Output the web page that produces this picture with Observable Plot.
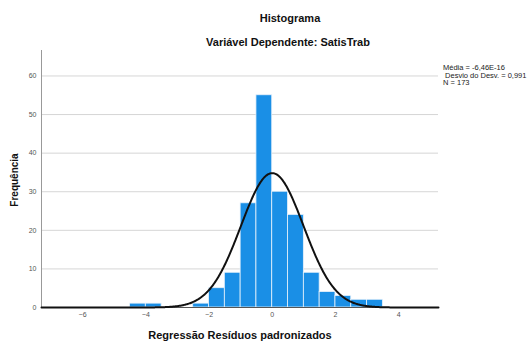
<!DOCTYPE html>
<html>
<head>
<meta charset="utf-8">
<script src="https://cdn.jsdelivr.net/npm/d3@7"></script>
<script src="https://cdn.jsdelivr.net/npm/@observablehq/plot@0.6"></script>
<style>
  body { margin: 0; background: #fff; font-family: "Liberation Sans", Arial, sans-serif; }
  #wrap { position: relative; width: 527px; height: 342px; }
  .t { position: absolute; white-space: nowrap; color: #111; line-height: 1; }
</style>
</head>
<body>
<div id="wrap">
  <div class="t" style="left:290px;top:13px;transform:translateX(-50%);font-size:11px;font-weight:bold;">Histograma</div>
  <div class="t" style="left:288px;top:37px;transform:translateX(-50%);font-size:11px;font-weight:bold;">Variável Dependente: SatisTrab</div>
  <div class="t" style="left:443px;top:64px;font-size:7.5px;line-height:7.6px;color:#222;">Média = -6,46E-16<br>&nbsp;Desvio do Desv. = 0,991<br>N = 173</div>
  <div class="t" style="left:240px;top:330px;transform:translateX(-50%);font-size:11px;font-weight:bold;">Regressão Resíduos padronizados</div>
  <div class="t" style="left:15px;top:180px;transform:translate(-50%,-50%) rotate(-90deg);font-size:10px;font-weight:bold;">Frequência</div>
</div>
<script>
// Histogram bins (left edges, width 0.5) and counts
const binStart = [-4.5, -4, -2.5, -2, -1.5, -1, -0.5, 0, 0.5, 1, 1.5, 2, 2.5, 3];
const counts   = [1, 1, 1, 5, 9, 27, 55, 30, 24, 9, 4, 3, 2, 2];
const binWidth = 0.5;
// Fitted normal stats (from legend)
const mean = -6.46e-16;
const sd = 0.991;
const n = 173;
const xTicks = [-6, -4, -2, 0, 2, 4];
const yTicks = [0, 10, 20, 30, 40, 50, 60];

const bars = binStart.map((x0, i) => ({x1: x0, x2: x0 + binWidth, y: counts[i]}));
const curve = d3.range(-7.3, 5.27, 0.02).map(x => ({
  x, y: n * binWidth * Math.exp(-0.5 * ((x - mean) / sd) ** 2) / (sd * Math.sqrt(2 * Math.PI))
}));

const chart = Plot.plot({
  width: 527,
  height: 342,
  marginLeft: 41,
  marginRight: 89,
  marginTop: 50,
  marginBottom: 35,
  style: {fontFamily: '"Liberation Sans", Arial, sans-serif', fontSize: "7px", color: "#555", background: "transparent"},
  x: {domain: [-7.3, 5.26], ticks: xTicks, tickSize: 0, tickPadding: 5, label: null},
  y: {domain: [0, 66.6], ticks: yTicks, tickSize: 0, tickPadding: 5, label: null},
  marks: [
    Plot.gridY(yTicks.filter(d => d > 0), {stroke: "#d6d6d6", strokeOpacity: 1, strokeWidth: 1}),
    Plot.rectY(bars, {x1: "x1", x2: "x2", y: "y", fill: "#1a8fe6", stroke: "#e8f2fb", strokeWidth: 0.8, inset: 0}),
    Plot.ruleX([-7.3], {stroke: "#999", strokeWidth: 1}),
    Plot.ruleY([0], {stroke: "#555", strokeWidth: 1}),
    Plot.line(curve, {x: "x", y: "y", stroke: "#111", strokeWidth: 2, curve: "linear"}),
    Plot.axisX({ticks: xTicks, tickSize: 0, tickPadding: 5, label: null}),
    Plot.axisY({ticks: yTicks, tickSize: 0, tickPadding: 5, label: null})
  ]
});
chart.style.position = "absolute";
chart.style.left = "0";
chart.style.top = "0";
document.getElementById("wrap").prepend(chart);
</script>
</body>
</html>
